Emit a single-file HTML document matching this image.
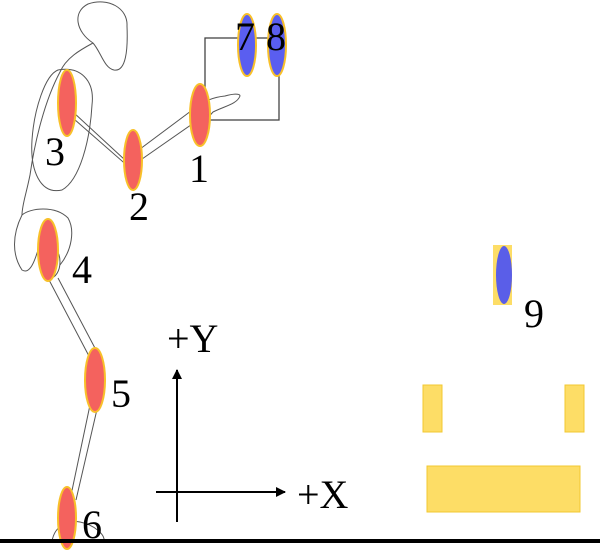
<!DOCTYPE html>
<html><head><meta charset="utf-8"><style>
body{margin:0;background:#fff}
svg text{font-family:"Liberation Serif","Times New Roman",serif;fill:#000}
</style></head><body>
<svg width="600" height="552" viewBox="0 0 600 552" xmlns="http://www.w3.org/2000/svg">
<defs>
<marker id="ar" markerWidth="10" markerHeight="10" refX="9" refY="5" orient="auto" markerUnits="userSpaceOnUse"><path d="M0,0 L10,5 L0,10 Z" fill="#000"/></marker>
</defs>
<g fill="none" stroke="#555" stroke-width="1">
<path d="M93,43 C76,32 72,12 88,4 C108,-3 128,8 127,26 C128,50 126,72 114,70 C104,68 101,52 93,43"/>
<path d="M93,43 C80,50 66,58 60,72 C45,100 35,140 30,175 C26,195 22,205 22,215"/>
<path d="M58,70 C80,66 95,80 92,105 C90,140 80,180 62,190 C40,195 30,170 32,140 C34,110 45,75 58,70 Z"/>
<path d="M60,100 L125,160 M66,112 L130,168 M60,100 C58,108 62,112 66,112"/>
<path d="M128,158 L195,108 M132,166 L198,120"/>
<path d="M195,108 C205,100 215,97 225,96 C232,94 240,93 240,96 C237,104 225,106 213,112 C208,118 205,120 198,120"/>
<path d="M22,215 C30,208 55,205 68,218 C75,230 72,250 60,265 M22,215 C12,235 12,255 22,270 C30,275 35,260 38,250"/>
<ellipse cx="50" cy="262" rx="10" ry="16"/>
<path d="M48,278 L90,358 M58,278 L96,350"/>
<path d="M90,405 L70,500 M98,405 L76,500"/>
<path d="M52,541 C55,525 68,520 80,522 C95,525 105,535 104,541"/>
<rect x="205" y="38" width="74" height="82" stroke="#444" stroke-width="1.3"/>
</g>
<g fill="#f4625e" stroke="#f8c02a" stroke-width="2">
<ellipse cx="200" cy="115" rx="10" ry="31"/>
<ellipse cx="133" cy="160" rx="9" ry="30"/>
<ellipse cx="67" cy="103" rx="9" ry="33"/>
<ellipse cx="48" cy="250" rx="10" ry="31"/>
<ellipse cx="95" cy="380" rx="10" ry="32"/>
<ellipse cx="67" cy="518" rx="9" ry="31"/>
</g>
<g fill="#5a5ef0" stroke="#f8c02a" stroke-width="2">
<ellipse cx="247" cy="45" rx="9" ry="31"/>
<ellipse cx="277" cy="45" rx="9" ry="31"/>
</g>
<rect x="493" y="245" width="19" height="60" fill="#fddd66"/>
<ellipse cx="504" cy="275" rx="8" ry="29" fill="#5a5ee8"/>
<g fill="#fddd66" stroke="#f2c830" stroke-width="1">
<rect x="423" y="385" width="19" height="47"/>
<rect x="565" y="385" width="19" height="47"/>
<rect x="427" y="466" width="153" height="46"/>
</g>
<line x1="177" y1="522" x2="177" y2="370" stroke="#000" stroke-width="2" marker-end="url(#ar)"/>
<line x1="156" y1="492" x2="285" y2="492" stroke="#000" stroke-width="2" marker-end="url(#ar)"/>
<line x1="0" y1="541" x2="600" y2="541" stroke="#000" stroke-width="4"/>
<g font-size="40" font-family="Liberation Serif, serif">
<text x="189" y="182">1</text>
<text x="129" y="220">2</text>
<text x="45" y="165">3</text>
<text x="72" y="283">4</text>
<text x="111" y="407">5</text>
<text x="82" y="538">6</text>
<text x="235" y="50">7</text>
<text x="266" y="50">8</text>
<text x="524" y="327">9</text>
<text x="167" y="352">+Y</text>
<text x="297" y="508">+X</text>
</g>
</svg>
</body></html>
